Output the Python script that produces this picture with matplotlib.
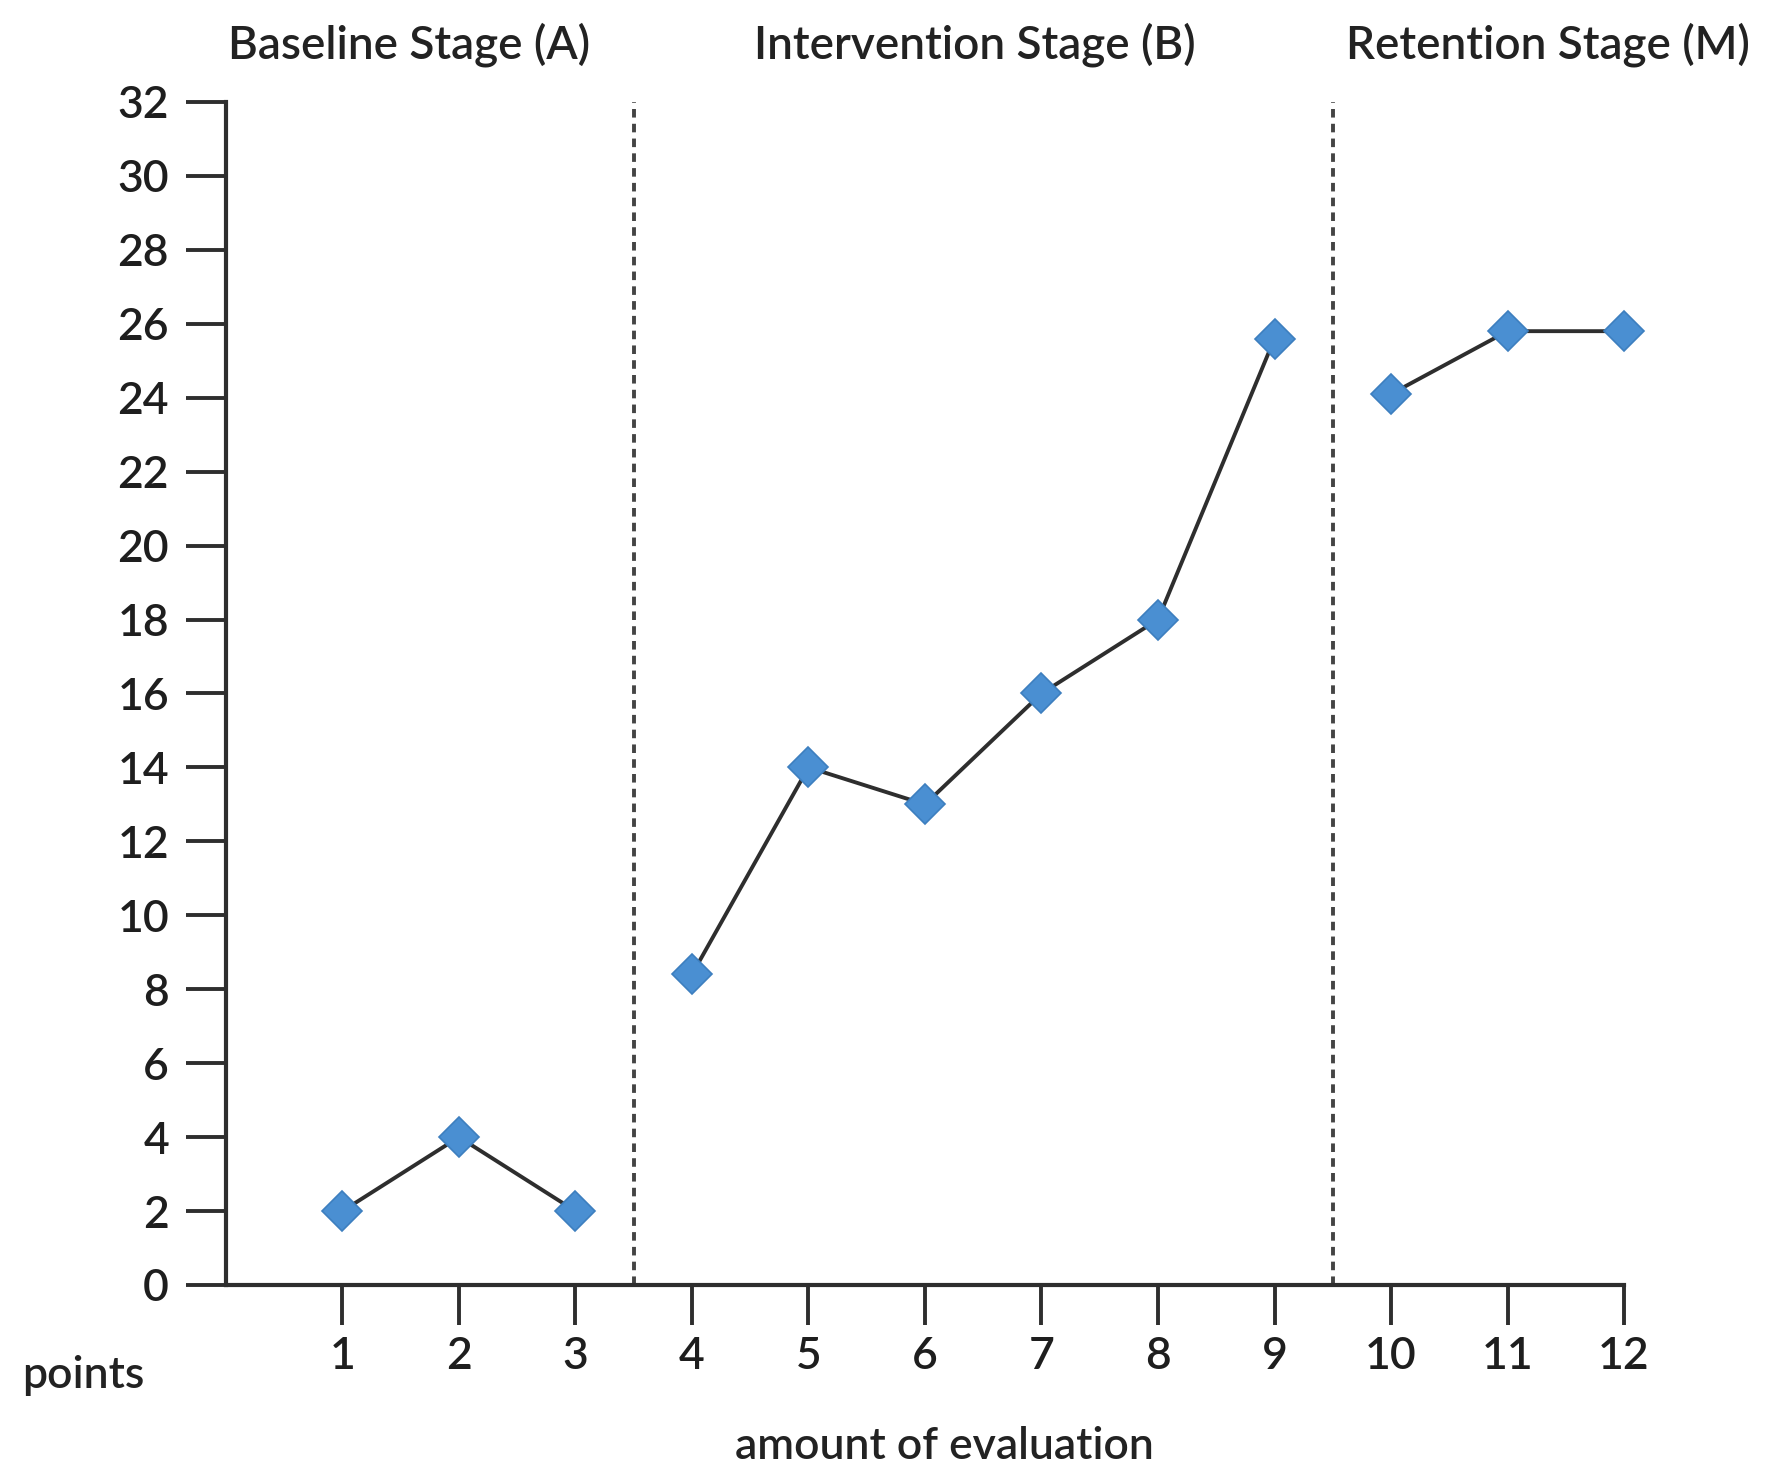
import matplotlib
matplotlib.use("Agg")
import matplotlib.pyplot as plt
import matplotlib.transforms as mtransforms

plt.rcParams['font.family'] = ['Lato', 'DejaVu Sans']

# data
sessions = list(range(1, 13))
scores = [2, 4, 2, 8.4, 14, 13, 16, 18, 25.6, 24.1, 25.8, 25.8]
phase_breaks = [3.5, 9.5]
phase_groups = [(0, 3), (3, 9), (9, 12)]
phase_titles = ["Baseline Stage (A)", "Intervention Stage (B)", "Retention Stage (M)"]
phase_title_x = [1.57, 6.43, 11.35]
y_ticks = list(range(0, 33, 2))

ink = "#2e2e2e"
marker_blue = "#4a8fd2"

fig = plt.figure(figsize=(17.72, 14.84), dpi=100)
ax = fig.add_axes([0.1275, 0.1341, 0.789, 0.7972])

for lo, hi in phase_groups:
    ax.plot(sessions[lo:hi], scores[lo:hi], color=ink, lw=2.8,
            marker="D", ms=20, mfc=marker_blue, mec="#3d7fbf", mew=1.2,
            zorder=3, clip_on=False)

for xb in phase_breaks:
    ax.plot([xb, xb], [0, 32], color="#444444", lw=2.8,
            ls=(0, (2.2, 1.6)), zorder=2, clip_on=False)

ax.set_xlim(0, 12)
ax.set_ylim(0, 32)
ax.set_xticks(sessions)
ax.set_yticks(y_ticks)
ax.tick_params(axis="both", direction="out", length=29, width=2.8,
               color=ink, labelcolor="#1e1e1e", labelsize=32)
ax.tick_params(axis="x", pad=8)
ax.tick_params(axis="y", pad=12)
for lab in ax.get_xticklabels() + ax.get_yticklabels():
    lab.set_fontweight("semibold")
ax.spines[["top", "right"]].set_visible(False)
for s in ("left", "bottom"):
    ax.spines[s].set_linewidth(3.0)
    ax.spines[s].set_color(ink)

trans = mtransforms.blended_transform_factory(ax.transData, fig.transFigure)
for title, tx in zip(phase_titles, phase_title_x):
    ax.text(tx, 0.970, title, transform=trans, ha="center", va="center",
            fontsize=33, fontweight="semibold", color="#222222")

fig.text(0.047, 0.073, "points", ha="center", va="center",
         fontsize=32, fontweight="semibold", color="#222222")
fig.text(0.533, 0.025, "amount of evaluation", ha="center", va="center",
         fontsize=32, fontweight="semibold", color="#222222")

fig.savefig("out.png", dpi=100)
